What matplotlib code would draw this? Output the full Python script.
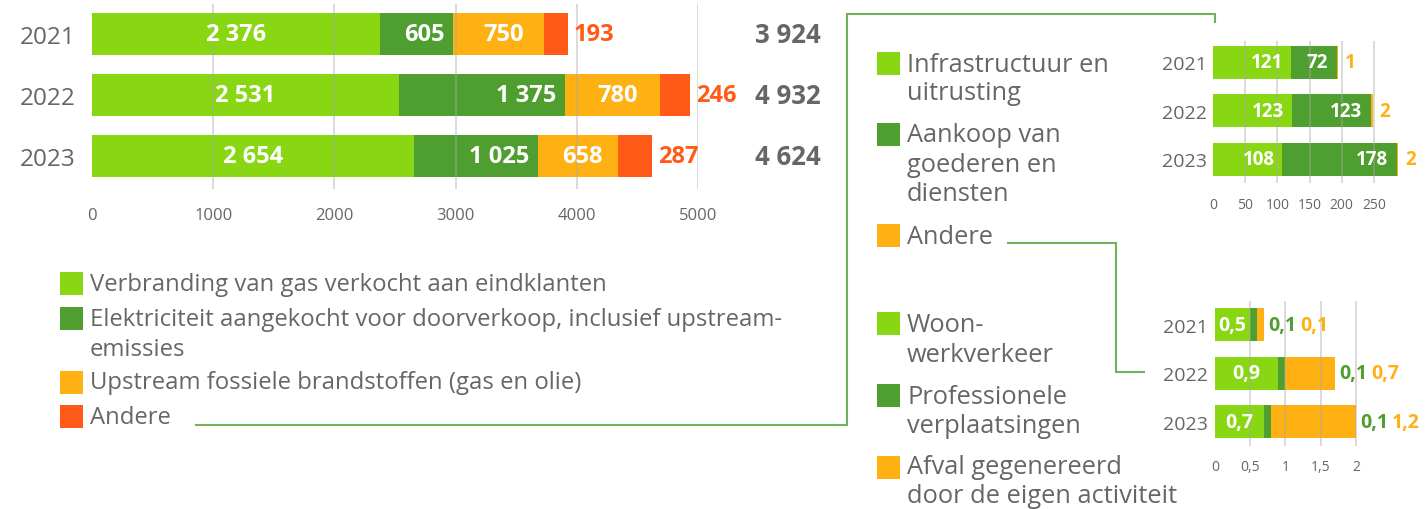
import matplotlib
matplotlib.use("Agg")
import matplotlib.pyplot as plt
from matplotlib.patches import Rectangle
from matplotlib.lines import Line2D
from matplotlib import transforms

# ---------------- data ----------------
years = ["2021", "2022", "2023"]

# Scope 3 - main categories
gas_combustion = [2376, 2531, 2654]
electricity_resale = [605, 1375, 1025]
upstream_fossil = [750, 780, 658]
other_main = [193, 246, 287]
totals = [3924, 4932, 4624]
main_ticks = [0, 1000, 2000, 3000, 4000, 5000]

# "Andere" split 1
infrastructure = [121, 123, 108]
goods_services = [72, 123, 178]
other_goods = [1, 2, 2]
goods_ticks = [0, 50, 100, 150, 200, 250]

# "Andere" split 2
commuting = [0.5, 0.9, 0.7]
business_travel = [0.1, 0.1, 0.1]
waste = [0.1, 0.7, 1.2]
travel_ticks = [0, 0.5, 1, 1.5, 2]
travel_tick_labels = ["0", "0,5", "1", "1,5", "2"]

main_legend = [
    ["Verbranding van gas verkocht aan eindklanten"],
    ["Elektriciteit aangekocht voor doorverkoop, inclusief upstream-", "emissies"],
    ["Upstream fossiele brandstoffen (gas en olie)"],
    ["Andere"],
]
goods_legend = [
    ["Infrastructuur en", "uitrusting"],
    ["Aankoop van", "goederen en", "diensten"],
    ["Andere"],
]
travel_legend = [
    ["Woon-", "werkverkeer"],
    ["Professionele", "verplaatsingen"],
    ["Afval gegenereerd", "door de eigen activiteit"],
]

# ---------------- style ----------------
LIGHT = "#89d712"
DARK = "#4f9e30"
ORANGE = "#ffb114"
RED = "#ff5a17"
GREY = "#666666"
GRID = "#a8a8a8"
LINK = "#70b159"
FONT = "Open Sans"

plt.rcParams["font.family"] = [FONT, "DejaVu Sans"]

W, H = 1426, 510
fig = plt.figure(figsize=(W / 100, H / 100), dpi=100)


def fx(px):
    return px / W


def fy(py):
    return 1 - py / H


def add_axes(left, right, top, bottom):
    return fig.add_axes([fx(left), fy(bottom), fx(right) - fx(left), fy(top) - fy(bottom)])


def style_axes(ax, xlim, ylim, ticks, tick_labels, tick_size, tick_pad, year_size, year_pad):
    ax.set_xlim(*xlim)
    ax.set_ylim(*ylim)
    for s in ax.spines.values():
        s.set_visible(False)
    ax.set_xticks(ticks)
    ax.set_xticklabels(tick_labels)
    ax.tick_params(axis="x", length=0, pad=tick_pad, labelsize=tick_size, labelcolor=GREY)
    ax.set_yticks(range(len(years)))
    ax.set_yticklabels(years)
    ax.tick_params(axis="y", length=0, pad=year_pad, labelsize=year_size, labelcolor=GREY)
    for t in ticks:
        if t != 0:
            ax.axvline(t, color=GRID, lw=1.4, alpha=0.42, zorder=3)
    ax.patch.set_alpha(0)


def px_offset(ax, dx):
    return transforms.offset_copy(ax.transData, fig=fig, x=dx * 72 / 100, y=0, units="points")


def fmt_int(v):
    return f"{v:,}".replace(",", " ")


def fmt_dec(v):
    return f"{v:.1f}".replace(".", ",")


# ---------------- main chart ----------------
ax = add_axes(92, 698, 5, 190)
style_axes(ax, (0, 5000), (2.541, -0.492), main_ticks, [str(t) for t in main_ticks],
           12, 13, 17.5, 12)
ypos = list(range(len(years)))
bh = 0.683
left = [0] * 3
segments = [(gas_combustion, LIGHT), (electricity_resale, DARK), (upstream_fossil, ORANGE), (other_main, RED)]
starts = []
for vals, col in segments:
    ax.barh(ypos, vals, left=left, height=bh, color=col, zorder=2)
    starts.append(list(left))
    left = [l + v for l, v in zip(left, vals)]

for i in ypos:
    # light green: centred
    ax.text(starts[0][i] + gas_combustion[i] / 2, i, fmt_int(gas_combustion[i]), color="white",
            fontsize=17, fontweight="bold", ha="center", va="center", zorder=4)
    # dark green: inside end
    end = starts[1][i] + electricity_resale[i]
    ax.text(end, i, fmt_int(electricity_resale[i]), color="white", fontsize=17, fontweight="bold",
            ha="right", va="center", zorder=4, transform=px_offset(ax, -9))
    # orange: centred
    ax.text(starts[2][i] + upstream_fossil[i] / 2, i, fmt_int(upstream_fossil[i]), color="white",
            fontsize=17, fontweight="bold", ha="center", va="center", zorder=4,
            transform=px_offset(ax, 5))
    # red: outside
    ax.text(left[i], i, fmt_int(other_main[i]), color=RED, fontsize=17, fontweight="bold",
            ha="left", va="center", zorder=4, transform=px_offset(ax, 6))

tot_tr = transforms.blended_transform_factory(fig.transFigure, ax.transData)
for i, t in enumerate(totals):
    ax.text(fx(821), i, fmt_int(t), transform=tot_tr, ha="right", va="center",
            fontsize=18.5, fontweight="bold", color=GREY)

# ---------------- goods & services chart ----------------
ax2 = add_axes(1213, 1406, 42, 184)
style_axes(ax2, (0, 300), (2.485, -0.443), goods_ticks, [str(t) for t in goods_ticks],
           10, 10, 14, 4.5)
bh2 = 0.68
l1 = infrastructure
l2 = [a + b for a, b in zip(infrastructure, goods_services)]
l3 = [a + b for a, b in zip(l2, other_goods)]
ax2.barh(ypos, infrastructure, height=bh2, color=LIGHT, zorder=2)
ax2.barh(ypos, goods_services, left=l1, height=bh2, color=DARK, zorder=2)
ax2.barh(ypos, other_goods, left=l2, height=bh2, color=ORANGE, zorder=2)
for i in ypos:
    ax2.text(l1[i], i, str(infrastructure[i]), color="white", fontsize=13.5, fontweight="bold",
             ha="right", va="center", zorder=4, transform=px_offset(ax2, -8))
    ax2.text(l2[i], i, str(goods_services[i]), color="white", fontsize=13.5, fontweight="bold",
             ha="right", va="center", zorder=4, transform=px_offset(ax2, -9))
    ax2.text(l3[i], i, str(other_goods[i]), color=ORANGE, fontsize=13.5, fontweight="bold",
             ha="left", va="center", zorder=4, transform=px_offset(ax2, 7))

# ---------------- travel & waste chart ----------------
ax3 = add_axes(1215, 1370, 302, 447)
style_axes(ax3, (0, 2.2), (2.505, -0.485), travel_ticks, travel_tick_labels,
           10, 9.5, 14, 5)
m1 = commuting
m2 = [a + b for a, b in zip(commuting, business_travel)]
m3 = [a + b for a, b in zip(m2, waste)]
ax3.barh(ypos, commuting, height=bh2, color=LIGHT, zorder=2)
ax3.barh(ypos, business_travel, left=m1, height=bh2, color=DARK, zorder=2)
ax3.barh(ypos, waste, left=m2, height=bh2, color=ORANGE, zorder=2)
for i in ypos:
    ax3.text(commuting[i] / 2, i, fmt_dec(commuting[i]), color="white", fontsize=14, fontweight="bold",
             ha="center", va="center", zorder=4)
    ax3.text(m3[i], i, fmt_dec(business_travel[i]), color=DARK, fontsize=14, fontweight="bold",
             ha="left", va="center", zorder=4, transform=px_offset(ax3, 4))
    ax3.text(m3[i], i, fmt_dec(waste[i]), color=ORANGE, fontsize=14, fontweight="bold",
             ha="left", va="center", zorder=4, transform=px_offset(ax3, 36))


# ---------------- legends ----------------
def legend_block(entries, colors, sq_x, sq_y, text_x, line_y, size, sq=23):
    for lines, col, sy, ly in zip(entries, colors, sq_y, line_y):
        fig.add_artist(Rectangle((fx(sq_x), fy(sy + sq / 2)), fx(sq), sq / H,
                                 transform=fig.transFigure, color=col, lw=0))
        for txt, y in zip(lines, ly):
            fig.text(fx(text_x), fy(y), txt, ha="left", va="center", fontsize=size, color=GREY)


legend_block(main_legend, [LIGHT, DARK, ORANGE, RED], 60, [284.5, 319.5, 383.5, 417.5], 90,
             [[285], [320, 350], [383], [418]], 17.2)
legend_block(goods_legend, [LIGHT, DARK, ORANGE], 877, [64.5, 135.5, 236.5], 907,
             [[65, 94], [136, 166, 195], [237]], 18.3)
legend_block(travel_legend, [LIGHT, DARK, ORANGE], 877, [324.5, 396.5, 468], 907,
             [[326, 356], [398, 427], [468, 497]], 18.3)


# ---------------- connector lines ----------------
def connector(points):
    xs = [fx(p[0]) for p in points]
    ys = [fy(p[1]) for p in points]
    fig.add_artist(Line2D(xs, ys, transform=fig.transFigure, color=LINK, lw=1.5,
                          solid_joinstyle="miter"))


connector([(196, 426), (847, 426), (847, 15), (1215, 15), (1215, 23)])
connector([(1008, 244), (1116, 244), (1116, 373), (1144, 373)])

fig.savefig("out.png", dpi=100)
